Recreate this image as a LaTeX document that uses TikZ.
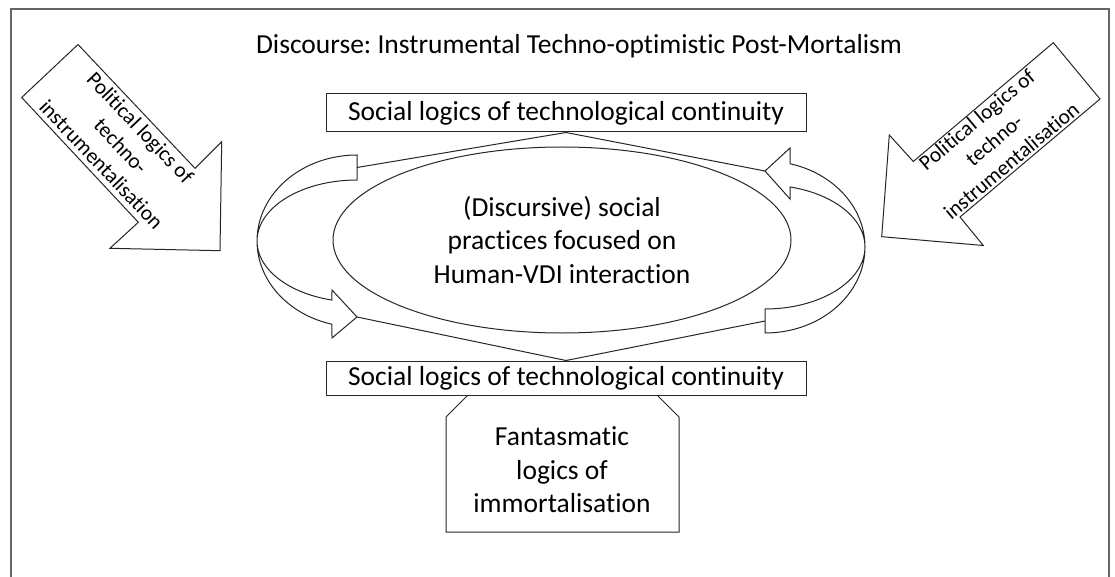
\documentclass[tikz,border=0pt]{standalone}
\usepackage{fontspec}
\setmainfont{Carlito}[Ligatures=NoCommon]
\frenchspacing
\usetikzlibrary{shapes.geometric}
\begin{document}
\begin{tikzpicture}[x=1pt,y=-1pt,line join=miter]
\tikzset{
  frame/.style={draw=black!60,line width=1.5pt},
  outline/.style={draw=black!85,line width=1pt},
  bigtext/.style={font=\fontsize{27.5}{33.5}\selectfont,align=center,inner sep=0pt},
  smalltext/.style={font=\fontsize{21.4}{26.8}\selectfont,align=center,inner sep=0pt},
  logicbox/.style={outline,fill=white,minimum width=480pt,inner sep=0pt,bigtext}
}
\useasboundingbox (0,0) rectangle (1115,577);

% open frame round the whole scheme
\draw[frame] (11,577) -- (11,9) -- (1109,9) -- (1109,577);

\node[bigtext] (title) at (579,46) {Discourse: Instrumental Techno-optimistic Post-Mortalism};

% fantasmatic logics, tucked under the lower social-logics box
\draw[outline] (468,395) -- (446,417) -- (446,532) -- (679,532) -- (679,417) -- (657,395);
\node[bigtext] (fan) at (562,470) {Fantasmatic\\logics of\\immortalisation};

% social logics boxes
\node[logicbox,minimum height=38pt] (top) at (566,113) {Social logics of technological continuity};
\node[logicbox,minimum height=34pt] (bot) at (566,378) {Social logics of technological continuity};

% practices
\node[outline,ellipse,minimum width=458pt,minimum height=186pt,inner sep=0pt,bigtext] (prac) at (562,240)
  {(Discursive) social\\practices focused on\\Human-VDI interaction};

% left curved arrow (pointing down, towards the lower box side)
\draw[outline,fill=white]
  plot[variable=\t,domain=90:255.5,samples=60,smooth] ({357+100*cos(\t)},{241-86*sin(\t)})
  -- (332,338) -- (357,317) -- (332,290)
  -- plot[variable=\t,domain=255.5:90,samples=60,smooth] ({357+100*cos(\t)},{241-61*sin(\t)})
  -- cycle;
% right curved arrow (pointing up)
\draw[outline,fill=white]
  (765,171) -- (790,148)
  -- plot[variable=\t,domain=75.5:-90,samples=60,smooth] ({765+100*cos(\t)},{247-86*sin(\t)})
  -- (765,309)
  -- plot[variable=\t,domain=-90:75.5,samples=60,smooth] ({765+100*cos(\t)},{247-62*sin(\t)})
  -- (790,199) -- cycle;

\coordinate (ltail) at (357,167.5);
\coordinate (ltip) at (357,317);
\coordinate (rtip) at (765,171);
\coordinate (rtail) at (765,321);

\draw[outline] (top.south) -- (ltail);
\draw[outline] (top.south) -- (rtip);
\draw[outline] (bot.north) -- (ltip);
\draw[outline] (bot.north) -- (rtail);

% political logics, block arrows from both sides
\draw[outline,fill=white] (21.7,97.5) -- (78,44.5) -- (195,168.3) -- (221.7,141.7)
  -- (220,250.7) -- (110,248.3) -- (138.3,222.3) -- cycle;
\node[smalltext,rotate=-46.5] (lpol) at (121,146) {Political logics of\\techno-\\instrumentalisation};

\draw[outline,fill=white] (1053.3,42.7) -- (1100,99) -- (960,217) -- (983.3,245.5)
  -- (881.7,236.7) -- (889.3,135) -- (913.3,161.5) -- cycle;
\node[smalltext,rotate=40] (rpol) at (994,140) {Political logics of\\techno-\\instrumentalisation};
\end{tikzpicture}
\end{document}
